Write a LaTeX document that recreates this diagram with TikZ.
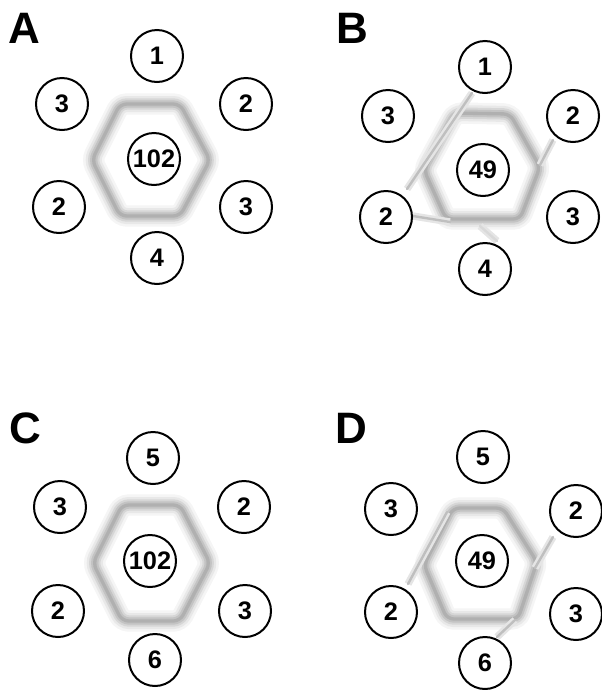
\documentclass[tikz,border=0pt]{standalone}
\usepackage{fontspec}
\setmainfont{Liberation Sans}

\tikzset{
  site/.style={draw, circle, fill=white, line width=1.5pt, minimum size=39pt, inner sep=0pt,
    font=\fontsize{19}{19}\selectfont\bfseries},
  panel/.style={inner sep=0pt, font=\fontsize{33}{33}\selectfont\bfseries},
  ring/.style={line join=round, rounded corners=5pt, draw=gray!62, line width=2.5pt,
    preaction={draw=gray!8, line width=16pt},
    preaction={draw=gray!18, line width=12pt},
    preaction={draw=gray!32, line width=8.5pt},
    preaction={draw=gray!47, line width=5.5pt}},
  streak/.style={line cap=round, draw=gray!50, line width=1.8pt,
    preaction={draw=gray!20, line width=5.5pt}}
}

\begin{document}
\begin{tikzpicture}[x=0.75pt, y=-0.75pt]

\useasboundingbox (0,0) rectangle (602,690);

% hexagons
\draw [ring] (92,160) -- (120,104) -- (180,104) -- (210,160) -- (180,216) -- (120,216) -- cycle;
\draw [ring] (424,170) -- (455,113) -- (510,114) -- (540,167) -- (520,219) -- (446,219) -- cycle;
\draw [ring] (93,563) -- (122,505) -- (180,505) -- (210,563) -- (180,621) -- (122,621) -- cycle;
\draw [ring] (424,565) -- (453,508) -- (503,508) -- (537,562) -- (518,619) -- (447,619) -- cycle;

% streaks
\draw [streak] (472,93) -- (407,189);
\draw [streak] (553,140) -- (540,165);
\draw [streak] (413,216) -- (450,222);
\draw [streak, draw=gray!30] (480,226) -- (497,241);
\draw [streak] (408,584) -- (447,512);
\draw [streak] (553,537) -- (535,568);
\draw [streak] (497,637) -- (515,620);

% panel A
\node [panel] (labA) at (24,28) {A};
\node [site] (A0) at (154,159) {102};
\node [site] (A1) at (157,56)  {1};
\node [site] (A2) at (246,104) {2};
\node [site] (A3) at (246,207) {3};
\node [site] (A4) at (157,258) {4};
\node [site] (A5) at (59,207)  {2};
\node [site] (A6) at (62,104)  {3};

% panel B
\node [panel] (labB) at (352,28) {B};
\node [site] (B0) at (483,170) {49};
\node [site] (B1) at (485,67)  {1};
\node [site] (B2) at (573,116) {2};
\node [site] (B3) at (573,217) {3};
\node [site] (B4) at (485,269) {4};
\node [site] (B5) at (386,217) {2};
\node [site] (B6) at (388,116) {3};

% panel C
\node [panel] (labC) at (25,428) {C};
\node [site] (C0) at (150,561) {102};
\node [site] (C1) at (153,458) {5};
\node [site] (C2) at (244,507) {2};
\node [site] (C3) at (245,611) {3};
\node [site] (C4) at (155,660) {6};
\node [site] (C5) at (58,611)  {2};
\node [site] (C6) at (60,507)  {3};

% panel D
\node [panel] (labD) at (351,428) {D};
\node [site] (D0) at (482,561) {49};
\node [site] (D1) at (483,457) {5};
\node [site] (D2) at (576,511) {2};
\node [site] (D3) at (576,614) {3};
\node [site] (D4) at (485,663) {6};
\node [site] (D5) at (391,612) {2};
\node [site] (D6) at (391,509) {3};

\end{tikzpicture}
\end{document}
